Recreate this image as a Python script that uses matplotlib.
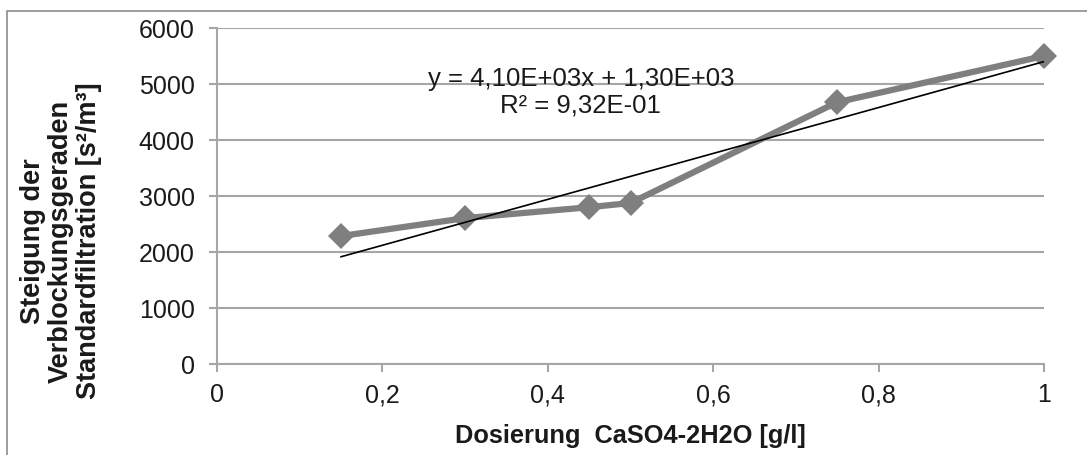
import matplotlib.pyplot as plt
from matplotlib.patches import Rectangle

plt.rcParams['font.family'] = ['Liberation Sans', 'DejaVu Sans']

# Dosierung CaSO4-2H2O [g/l] vs. Steigung der Verblockungsgeraden [s²/m³]
dosierung = [0.15, 0.3, 0.45, 0.5, 0.75, 1.0]
steigung = [2285, 2605, 2800, 2875, 4675, 5500]

# lineare Trendlinie (Excel-Ausgabe)
slope = 4.10e3
intercept = 1.30e3
r2 = 0.932

x_ticks = [0, 0.2, 0.4, 0.6, 0.8, 1]
x_labels = ['0', '0,2', '0,4', '0,6', '0,8', '1']
y_ticks = [0, 1000, 2000, 3000, 4000, 5000, 6000]

W, H = 1087, 456
fig = plt.figure(figsize=(W / 100, H / 100), dpi=100)
ax = fig.add_axes([217 / W, 1 - 365 / H, (1044 - 217) / W, (365 - 29) / H])

grid_col = '#a6a6a6'
txt_col = '#1a1a1a'
ax.grid(axis='y', color=grid_col, linewidth=1.5)
ax.set_axisbelow(True)

ax.plot(dosierung, steigung, color='#7f7f7f', linewidth=4.5,
        marker='D', markersize=13, markeredgewidth=0, zorder=3,
        clip_on=False)

x0, x1 = dosierung[0], dosierung[-1]
ax.plot([x0, x1], [slope * x0 + intercept, slope * x1 + intercept],
        color='black', linewidth=1.2, zorder=4)

ax.set_xlim(0, 1)
ax.set_ylim(0, 6000)
ax.set_xticks(x_ticks)
ax.set_xticklabels(x_labels)
ax.set_yticks(y_ticks)

for s in ['top', 'right']:
    ax.spines[s].set_visible(False)
for s in ['left', 'bottom']:
    ax.spines[s].set_color(grid_col)
    ax.spines[s].set_linewidth(1.5)

ax.tick_params(axis='both', colors=grid_col, width=1.5, length=6,
               labelcolor=txt_col, labelsize=18)
ax.tick_params(axis='x', pad=7)
ax.tick_params(axis='y', pad=10)

eq = 'y = {:.2E}x + {:.2E}'.format(slope, intercept).replace('.', ',')
r2_txt = 'R² = ' + '{:.2E}'.format(r2).replace('.', ',')
ax.text(0.44, 4870, eq + '\n' + r2_txt,
        ha='center', va='center', fontsize=18.5, color=txt_col,
        linespacing=1.15)

fig.text(630 / W, 1 - 436 / H, 'Dosierung  CaSO4-2H2O [g/l]',
         ha='center', va='center', fontsize=18.3, fontweight='bold',
         color=txt_col)
fig.text(61 / W, 1 - 241 / H,
         'Steigung der\nVerblockungsgeraden\nStandardfiltration [s²/m³]',
         ha='center', va='center', rotation=90, fontsize=19.5,
         fontweight='bold', color=txt_col, linespacing=1.12)

# Rahmen um das Diagramm
fig.patches.append(Rectangle((7 / W, -0.1), 1.2, 1 - 12 / H + 0.1,
                             transform=fig.transFigure, fill=False,
                             edgecolor='#8c8c8c', linewidth=1.2))

fig.savefig('out.png', dpi=100)
